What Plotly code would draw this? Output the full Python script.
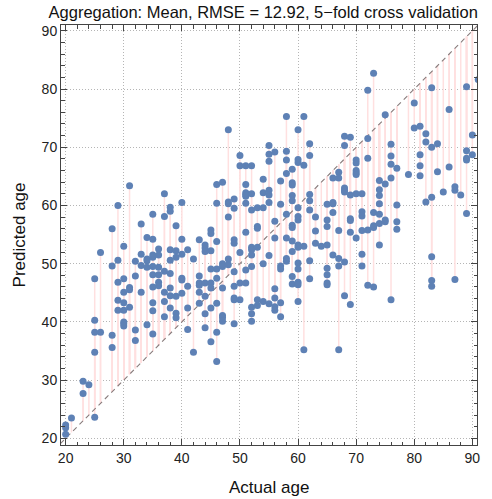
import plotly.graph_objects as go

# ---- data: (actual age, predicted age) grouped by actual age ----
actual = (
    [20]*3 + [21] + [23]*2 + [24] + [25]*5 + [26]*2 + [28]*4 + [29]*5 + [30]*8 + [31]*4 + [32]*4 +
    [33]*4 + [34]*5 + [35]*10 + [36]*6 + [37]*6 + [38]*8 + [39]*6 + [40]*6 + [41]*4 + [42]*2 +
    [43]*6 + [44]*7 + [45]*8 + [46]*8 + [47]*7 + [48]*6 + [49]*9 + [50]*5 + [51]*9 + [52]*10 +
    [53]*6 + [54]*5 + [55]*8 + [56]*7 + [57]*6 + [58]*8 + [59]*11 + [60]*13 + [61]*4 + [62]*7 +
    [63]*3 + [64]*1 + [65]*8 + [66]*5 + [67]*6 + [68]*7 + [69]*6 + [70]*7 + [71]*6 + [72]*5 +
    [73]*5 + [74]*7 + [75]*4 + [76]*5 + [77]*4 + [79]*1 + [80]*2 + [81]*4 + [82]*3 + [83]*6 +
    [84]*2 + [85]*1 + [86]*2 + [87]*3 + [88]*1 + [89]*5 + [90]*2 + [91]*1
)

predicted = [
    22.3, 21.8, 20.7,
    23.5,
    29.8, 27.7,
    29.2,
    40.3, 38.2, 34.8, 23.6, 47.4,
    38.2, 51.9,
    37.7, 35.6, 56.0, 49.6,
    43.7, 42.0, 60.0, 50.6, 46.8,
    43.3, 42.0, 40.0, 39.7, 39.3, 53.0, 47.4, 45.1,
    42.5, 63.4, 45.9, 45.5,
    38.6, 36.8, 50.4, 47.9,
    56.8, 51.6, 49.7, 45.1,
    39.5, 54.5, 50.8, 50.5, 49.4,
    43.3, 41.9, 37.9, 58.5, 54.2, 51.5, 51.1, 49.5, 48.1, 46.0,
    52.5, 51.5, 49.4, 48.1, 46.8, 46.2,
    43.5, 40.9, 62.0, 58.1, 48.7, 45.1,
    42.4, 59.7, 59.0, 52.4, 50.6, 48.3, 45.8, 44.5,
    41.5, 40.7, 56.5, 52.2, 51.1, 44.4,
    60.5, 54.2, 51.6, 47.5, 47.2, 44.9,
    42.4, 38.7, 52.4, 46.1,
    34.8, 50.8,
    43.2, 54.1, 47.9, 46.7, 46.3, 45.1,
    41.4, 39.0, 53.2, 52.7, 52.1, 46.7, 44.4,
    42.4, 36.6, 55.8, 55.2, 52.2, 49.1, 46.7, 45.8,
    43.2, 38.2, 33.2, 63.6, 60.4, 53.8, 49.1, 47.5,
    41.1, 40.7, 40.1, 64.0, 50.0, 49.5, 45.8,
    73.0, 60.6, 60.3, 58.0, 50.8, 49.8,
    43.8, 39.7, 61.1, 59.5, 54.1, 53.5, 48.6, 46.1, 44.1,
    43.8, 66.8, 68.6, 51.9, 46.7,
    66.8, 63.6, 62.2, 61.9, 61.6, 60.4, 55.4, 48.9, 46.7,
    42.5, 41.4, 40.1, 66.8, 62.0, 59.2, 52.8, 52.4, 51.5, 49.5,
    43.8, 42.8, 59.6, 56.4, 56.1, 52.8,
    43.5, 64.5, 62.2, 59.6, 50.0,
    43.1, 70.3, 68.8, 67.6, 62.6, 61.8, 60.5, 51.4,
    42.6, 42.0, 69.2, 57.3, 54.4, 45.7, 44.1,
    40.9, 64.2, 60.2, 49.6, 49.1, 43.3,
    75.3, 69.3, 67.8, 65.5, 58.5, 54.4, 50.9, 50.4,
    66.2, 63.9, 63.5, 61.7, 60.8, 56.6, 56.2, 53.9, 52.1, 47.8, 46.5,
    73.0, 67.9, 67.4, 59.6, 58.1, 57.5, 53.2, 52.8, 50.1, 49.1, 46.8, 46.4, 43.5,
    75.3, 66.9, 53.0, 35.2,
    70.6, 68.6, 61.9, 60.8, 59.2, 50.5, 47.4,
    58.0, 55.6, 53.5,
    53.0,
    60.2, 57.5, 56.4, 53.2, 49.2, 48.1, 46.7, 46.4,
    60.3, 51.5, 64.7, 60.5, 58.8,
    35.2, 55.7, 65.7, 64.7, 50.9, 49.6,
    71.9, 70.3, 63.0, 62.6, 62.3, 50.3, 44.5,
    71.7, 43.0, 61.8, 57.7, 57.4, 55.4,
    67.8, 67.3, 66.0, 65.6, 65.3, 62.0, 54.4,
    62.0, 58.9, 58.2, 55.7, 51.6, 49.6,
    79.8, 71.5, 68.1, 55.8, 46.3,
    82.7, 58.8, 56.5, 56.2, 46.0,
    64.3, 62.7, 61.7, 60.3, 58.5, 56.9, 53.2,
    75.6, 63.7, 57.5, 57.2,
    43.8, 70.5, 68.5, 67.1, 64.7,
    66.4, 60.1, 57.2, 55.9,
    65.3,
    77.6, 73.3,
    73.6, 68.7, 66.8, 65.1,
    72.3, 70.9, 60.6,
    80.2, 70.0, 61.4, 51.2, 47.1, 46.1,
    70.6, 65.8,
    62.3,
    76.5, 66.6,
    63.2, 62.6, 47.3,
    61.8,
    80.4, 69.4, 68.1, 67.8, 58.6,
    72.1, 68.7,
    81.6,
]

title_text = "Aggregation: Mean, RMSE = 12.92, 5\u2212fold cross validation"
x_label = "Actual age"
y_label = "Predicted age"
tick_vals = [20, 30, 40, 50, 60, 70, 80, 90]
diag = [18, 92]

# residual segments from each point to the diagonal
rx, ry = [], []
for a, p in zip(actual, predicted):
    rx += [a, a, None]
    ry += [p, a, None]

FONT = "Liberation Sans, Arial"

fig = go.Figure()
fig.add_trace(go.Scatter(x=rx, y=ry, mode="lines",
                         line=dict(color="#FFE0E0", width=1.5),
                         hoverinfo="skip", showlegend=False))
fig.add_trace(go.Scatter(x=diag, y=diag, mode="lines",
                         line=dict(color="#877b7b", width=1.1, dash="5px,4px"),
                         showlegend=False))
fig.add_trace(go.Scatter(x=actual, y=predicted, mode="markers",
                         marker=dict(color="#5E81B5", size=7),
                         showlegend=False))

axis_common = dict(
    showline=True, linecolor="#444", linewidth=1, mirror="allticks",
    ticks="inside", ticklen=6, tickwidth=1, tickcolor="#444",
    tickvals=tick_vals, showgrid=True, gridcolor="#b5b5b5", griddash="1px,2px", gridwidth=1,
    zeroline=False, tickfont=dict(family=FONT, size=14, color="#222"),
    minor=dict(dtick=2, ticks="inside", ticklen=3.5, tickcolor="#444", showgrid=False),
)

fig.update_layout(
    width=492, height=499,
    margin=dict(l=61, r=12, t=25, b=54),
    paper_bgcolor="white", plot_bgcolor="white",
    title=dict(text=title_text, x=0.535, xanchor="center", y=1 - 12/499, yanchor="middle",
               yref="container", font=dict(family=FONT, size=16.5, color="#111")),
    xaxis=dict(range=[19.2, 90.8], **axis_common),
    yaxis=dict(range=[18.85, 91.0], **axis_common),
    annotations=[
        dict(text=x_label, xref="paper", yref="paper", x=0.5, y=-0.1, xanchor="center",
             yanchor="middle", showarrow=False,
             font=dict(family=FONT, size=17, color="#111")),
        dict(text=y_label, xref="paper", yref="paper", x=-0.1, y=0.5, xanchor="center",
             yanchor="middle", showarrow=False, textangle=-90,
             font=dict(family=FONT, size=17, color="#111")),
    ],
)

fig.write_html("out.html")
